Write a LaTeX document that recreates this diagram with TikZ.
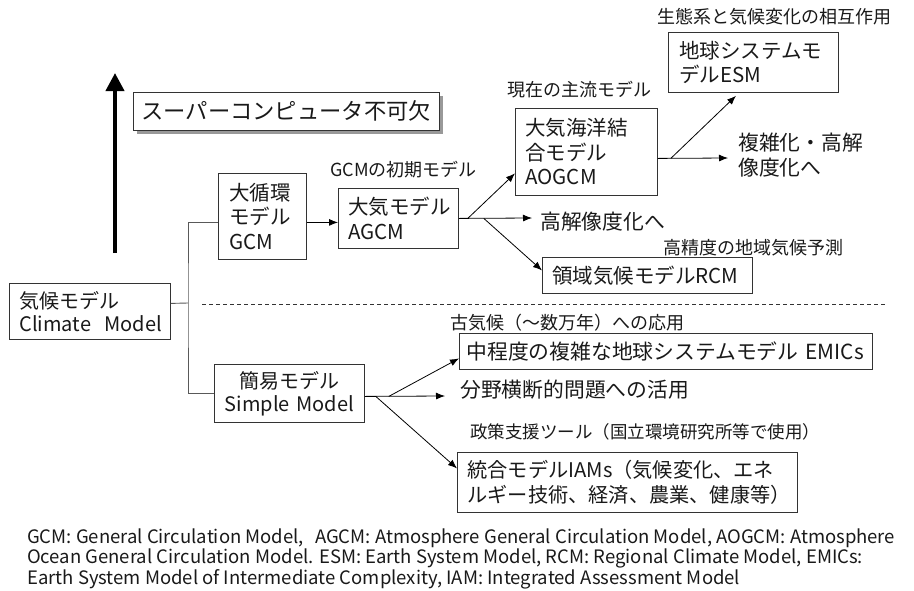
\documentclass[tikz,border=0pt]{standalone}
\usepackage{fontspec}
\setmainfont{Noto Sans CJK JP}
\usetikzlibrary{arrows.meta,shadows}
\tikzset{
  box/.style={draw=black!80, line width=0.8pt, inner ysep=0pt, align=left, anchor=north west, text=black!90},
  fbig/.style={font=\fontsize{20.5}{24.5}\selectfont},
  flab/.style={font=\fontsize{18}{21}\selectfont, inner sep=0pt, anchor=west, text=black!90},
  ftxt/.style={font=\fontsize{20.8}{24.5}\selectfont, inner sep=0pt, anchor=west, align=left, text=black!90},
  arr/.style={draw=black, line width=0.8pt, -{Latex[length=9pt,width=7pt]}},
  treeline/.style={draw=black!65, line width=0.9pt},
}
\begin{document}
\begin{tikzpicture}[x=1pt,y=-1pt]
\path[use as bounding box] (0,0) rectangle (914,590);

% big arrow
\coordinate (bigb) at (115,253);
\coordinate (bigt) at (115,73);
\draw[line width=4pt, -{Triangle[length=18pt,width=18pt]}] (bigb) -- (bigt);

% boxes
\node[box, fill=white, drop shadow={shadow xshift=4pt, shadow yshift=-4pt, fill=black!40, opacity=1},
  font=\fontsize{22.3}{26}\selectfont, inner xsep=8pt, text width=290pt, minimum height=38pt] (super) at (133,92) {スーパーコンピュータ不可欠};

\node[box, fbig, inner xsep=11pt, text width=66pt, minimum height=86pt] (gcm) at (218,173) {大循環\\モデル\\GCM};
\node[box, fbig, inner xsep=10pt, text width=100pt, minimum height=60pt] (agcm) at (338,188) {大気モデル\\AGCM};
\node[box, fbig, inner xsep=10pt, text width=122pt, minimum height=87pt] (aogcm) at (515,108) {大気海洋結\\合モデル\\AOGCM};
\node[box, fbig, inner xsep=11pt, text width=148pt, minimum height=60pt] (esm) at (668,32) {地球システムモ\\デルESM};
\node[box, fbig, inner xsep=10pt, text width=190pt, minimum height=36pt] (rcm) at (542,257) {領域気候モデルRCM};
\node[box, font=\fontsize{20}{23}\selectfont, inner xsep=10pt, text width=141pt, minimum height=56pt] (climate) at (9,283) {気候モデル\\\mbox{Climate\ \ Model}};
\node[box, font=\fontsize{20}{23}\selectfont, align=center, inner xsep=8pt, text width=134pt, minimum height=58pt] (simple) at (214,364) {簡易モデル\\\mbox{Simple Model}};
\node[box, font=\fontsize{20.8}{24.5}\selectfont, inner xsep=7pt, text width=399pt, minimum height=36pt] (emics) at (459,333) {\mbox{中程度の複雑な地球システムモデル EMICs}};
\node[box, font=\fontsize{20.2}{25}\selectfont, inner xsep=10pt, text width=320pt, minimum height=60pt] (iams) at (457,452) {統合モデルIAMs（気候変化、エネ\\ルギー技術、経済、農業、健康等）};

% labels
\node[flab] (l1) at (330,170) {GCMの初期モデル};
\node[flab] (l2) at (507,90) {現在の主流モデル};
\node[flab] (l3) at (657,17) {生態系と気候変化の相互作用};
\node[flab] (l4) at (663,248) {高精度の地域気候予測};
\node[flab] (l5) at (450,323) {古気候（～数万年）への応用};
\node[flab, font=\fontsize{17.5}{21}\selectfont] (l6) at (470,432) {政策支援ツール（国立環境研究所等で使用）};

% free texts
\node[ftxt] (hr) at (540,222) {高解像度化へ};
\node[ftxt] (cx) at (738,155) {複雑化・高解\\像度化へ};
\node[ftxt] (bn) at (460,390) {分野横断的問題への活用};

% connectors: tree
\coordinate (jn) at (188,303);
\draw[treeline] ([yshift=8pt]climate.east) -- (jn);
\draw[treeline] ([yshift=-6pt]gcm.west) -| (jn) |- (simple.west);

% gcm -> agcm
\draw[arr] ([yshift=-6pt]gcm.east) -- ([yshift=-4pt]agcm.west);

% agcm branches
\coordinate (hrtip) at (532,218);
\draw[arr] (agcm.east) -- (hrtip);
\draw[arr] ([xshift=9pt]agcm.east) -- ([yshift=-21.5pt]aogcm.west);
\draw[arr] ([xshift=25pt]agcm.east) -- ([yshift=5pt]rcm.west);

% aogcm branches
\coordinate (cxtip) at (728,158);
\draw[arr] ([yshift=-6.5pt]aogcm.east) -- (cxtip);
\draw[arr] ([xshift=13pt,yshift=-6.5pt]aogcm.east) -- ([xshift=68pt,yshift=-3pt]esm.south west);

% simple branches
\coordinate (bntip) at (445,396);
\draw[arr] ([yshift=-3pt]simple.east) -- (bntip);
\draw[arr] ([xshift=24pt,yshift=-3pt]simple.east) -- ([yshift=-7pt]emics.west);
\draw[arr] ([xshift=11pt,yshift=-3pt]simple.east) -- ([yshift=14pt]iams.west);

% dashed divider
\coordinate (dl) at (202,304);
\coordinate (dr) at (885,304);
\draw[black!80, line width=0.8pt, dash pattern=on 4pt off 3pt] (dl) -- (dr);

% footer
\node[anchor=base west, inner sep=0pt, align=left, text=black!90, font=\fontsize{18.5}{19.5}\selectfont] (foot) at (27,584)
{GCM: General Circulation Model,\hspace{0.6em}AGCM: Atmosphere General Circulation Model, AOGCM: Atmosphere\\
Ocean General Circulation Model. ESM: Earth System Model, RCM: Regional Climate Model, EMICs:\\
Earth System Model of Intermediate Complexity, IAM: Integrated Assessment Model};
\end{tikzpicture}
\end{document}
